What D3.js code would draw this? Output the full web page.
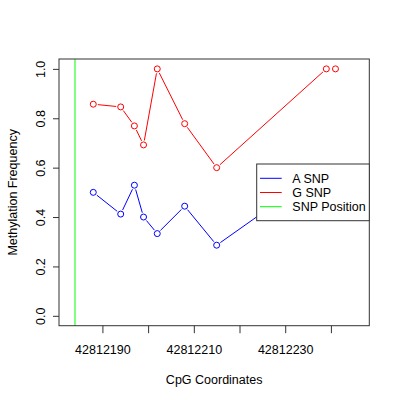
<!DOCTYPE html>
<html>
<head>
<meta charset="utf-8">
<script src="https://cdn.jsdelivr.net/npm/d3@7"></script>
<style>
body { margin: 0; background: #fff; }
text { font-family: "Liberation Sans", Arial, sans-serif; }
</style>
</head>
<body>
<div id="vis_canvas"></div>
<script>
//data
var positions = [42812188, 42812194, 42812197, 42812199, 42812202, 42812208, 42812215, 42812239, 42812241];
var gFreq = [0.857, 0.846, 0.769, 0.692, 1.0, 0.778, 0.6, 1.0, 1.0];
var aFreq = [0.5, 0.412, 0.529, 0.4, 0.333, 0.444, 0.286, 0.6, 0.6];
var snpPos = 42812184;
var xTicks = [42812190, 42812200, 42812210, 42812220, 42812230, 42812240];
var xLabels = [42812190, 42812210, 42812230];
var yTicks = [0, 0.2, 0.4, 0.6, 0.8, 1.0];
var legendNames = ["A SNP", "G SNP", "SNP Position"];
var legendColors = ["blue", "red", "#00ff00"];

// plot box (note: "top" is reserved on window, so use p* names)
var pLeft = 59, pRight = 369.3, pTop = 59, pBottom = 325.7;

var x = d3.scaleLinear().domain([42812180.5, 42812248.4]).range([pLeft, pRight]);
var y = d3.scaleLinear().domain([-0.04, 1.04]).range([pBottom, pTop]);

var svg = d3.select("#vis_canvas").append("svg")
    .attr("width", 400).attr("height", 400);

// snp position line
svg.append("line")
    .attr("x1", x(snpPos)).attr("x2", x(snpPos))
    .attr("y1", pTop).attr("y2", pBottom)
    .attr("stroke", "#00ff00").attr("stroke-width", 1);

function drawSeries(vals, col) {
  var pts = positions.map(function(p, i) { return [p, vals[i]]; });
  // lines stop short of the circles like R type="b"
  for (var i = 0; i < pts.length - 1; i++) {
    var x1 = x(pts[i][0]), y1 = y(pts[i][1]);
    var x2 = x(pts[i+1][0]), y2 = y(pts[i+1][1]);
    var dx = x2 - x1, dy = y2 - y1, len = Math.sqrt(dx*dx + dy*dy);
    var gap = 4.5;
    if (len <= 2 * gap) continue;
    svg.append("line")
      .attr("x1", x1 + dx/len*gap).attr("y1", y1 + dy/len*gap)
      .attr("x2", x2 - dx/len*gap).attr("y2", y2 - dy/len*gap)
      .attr("stroke", col).attr("stroke-width", 1);
  }
  svg.selectAll(".pt" + col).data(pts).enter()
    .append("circle")
    .attr("cx", function(d) { return x(d[0]); })
    .attr("cy", function(d) { return y(d[1]); })
    .attr("r", 3)
    .attr("fill", "none")
    .attr("stroke", col).attr("stroke-width", 1);
}
drawSeries(aFreq, "blue");
drawSeries(gFreq, "red");

// box
svg.append("rect")
    .attr("x", pLeft).attr("y", pTop)
    .attr("width", pRight - pLeft).attr("height", pBottom - pTop)
    .attr("fill", "none").attr("stroke", "#333").attr("stroke-width", 1);

// x axis
var xAxis = svg.append("g").attr("transform", "translate(0," + pBottom + ")");
xAxis.call(d3.axisBottom(x).tickValues(xTicks).tickSize(7.5).tickFormat(function(d) {
  return xLabels.indexOf(d) >= 0 ? d3.format("d")(d) : "";
}));
xAxis.select(".domain").remove();
xAxis.selectAll(".tick line").attr("stroke", "#333");
xAxis.selectAll(".tick text").attr("y", 0).attr("dy", 0)
    .attr("transform", "translate(0,28.5)")
    .attr("font-size", "12.5px").attr("fill", "#000").attr("font-family", "Liberation Sans, Arial, sans-serif");

// y axis
var yAxis = svg.append("g").attr("transform", "translate(" + pLeft + ",0)");
yAxis.call(d3.axisLeft(y).tickValues(yTicks).tickSize(6).tickFormat(d3.format(".1f")));
yAxis.select(".domain").remove();
yAxis.selectAll(".tick line").attr("stroke", "#333");
yAxis.selectAll(".tick text")
    .attr("x", 0).attr("dy", 0)
    .attr("text-anchor", "middle")
    .attr("transform", "translate(-14,0) rotate(-90)")
    .attr("font-size", "12.5px").attr("fill", "#000").attr("font-family", "Liberation Sans, Arial, sans-serif");

// titles
svg.append("text")
    .attr("x", (pLeft + pRight) / 2).attr("y", 383.5)
    .attr("text-anchor", "middle").attr("font-size", "12.5px")
    .text("CpG Coordinates");
svg.append("text")
    .attr("transform", "translate(17," + ((pTop + pBottom) / 2) + ") rotate(-90)")
    .attr("text-anchor", "middle").attr("font-size", "12.5px")
    .text("Methylation Frequency");

// legend
var lg = svg.append("g");
lg.append("rect")
    .attr("x", 256.7).attr("y", 164)
    .attr("width", pRight - 256.7).attr("height", 56.7)
    .attr("fill", "#fff").attr("stroke", "#333").attr("stroke-width", 1);
legendNames.forEach(function(name, i) {
  var ly = 178.3 + i * 14.2;
  lg.append("line")
    .attr("x1", 260).attr("x2", 281.7).attr("y1", ly).attr("y2", ly)
    .attr("stroke", legendColors[i]).attr("stroke-width", 1);
  lg.append("text")
    .attr("x", 292.3).attr("y", ly + 4.5)
    .attr("font-size", "12.5px")
    .text(name);
});
</script>
</body>
</html>
